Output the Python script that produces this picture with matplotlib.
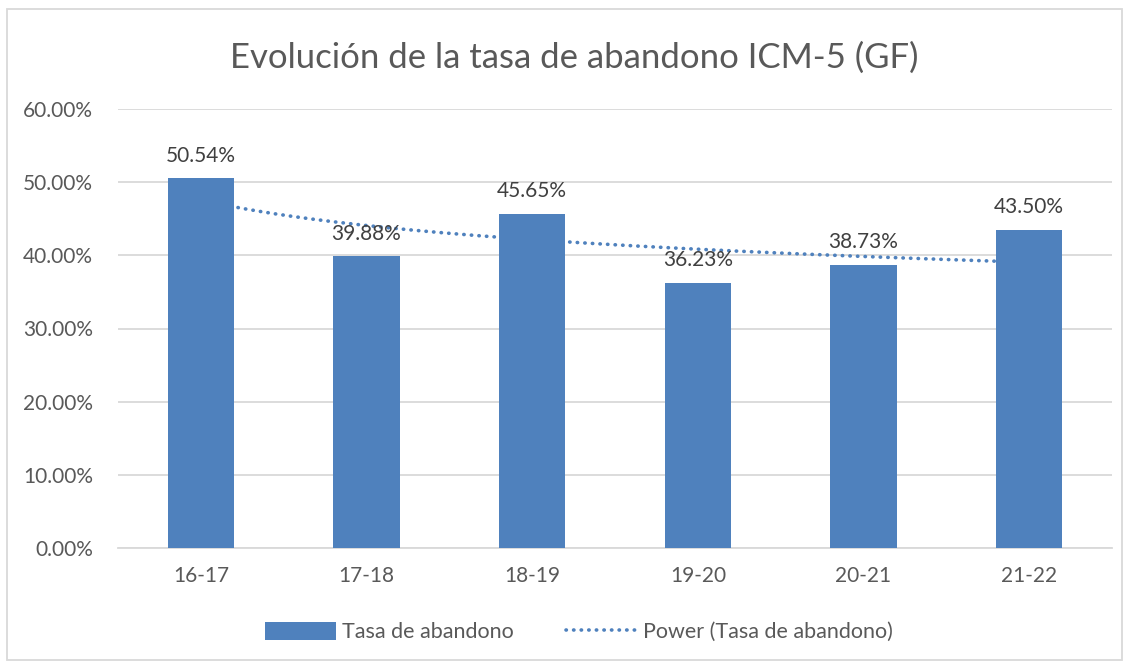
import numpy as np
import matplotlib

matplotlib.use("Agg")
import matplotlib.pyplot as plt  # noqa: E402
from matplotlib.patches import Rectangle  # noqa: E402

# data
years = ["16-17", "17-18", "18-19", "19-20", "20-21", "21-22"]
abandono = [50.54, 39.88, 45.65, 36.23, 38.73, 43.50]

BAR_COLOR = "#4F81BD"
TEXT_COLOR = "#595959"
GRID_COLOR = "#D9D9D9"

plt.rcParams["font.family"] = ["Lato", "DejaVu Sans"]

fig = plt.figure(figsize=(11.3, 6.65), dpi=100)
ax = fig.add_axes([118 / 1130, 1 - 548 / 665, 994 / 1130, 439 / 665])

x = np.arange(len(years))
bars = ax.bar(x, abandono, width=0.4, color=BAR_COLOR, zorder=3,
              label="Tasa de abandono")

# power trendline (Excel style): y = a * n^b fitted on log-log
n = x + 1.0
b, loga = np.polyfit(np.log(n), np.log(abandono), 1)
nn = np.linspace(1, len(years), 200)
(trend,) = ax.plot(nn - 1, np.exp(loga) * nn ** b, color=BAR_COLOR, lw=2.6,
                   linestyle=(0, (0.1, 2.0)), dash_capstyle="round", zorder=2,
                   label="Power (Tasa de abandono)")

for xi, v in zip(x, abandono):
    ax.annotate(f"{v:.2f}%", (xi, v), xytext=(0, 9), textcoords="offset points",
                ha="center", va="bottom", fontsize=15, color="#404040", zorder=5)

ax.set_xlim(-0.5, len(years) - 0.5)
ax.set_ylim(0, 60)
ax.set_yticks(np.arange(0, 61, 10))
ax.set_yticklabels([f"{t:.2f}%" for t in np.arange(0, 61, 10)])
ax.set_xticks(x)
ax.set_xticklabels(years)
ax.tick_params(axis="both", length=0, labelsize=15, labelcolor=TEXT_COLOR)
ax.tick_params(axis="y", pad=18)
ax.tick_params(axis="x", pad=13)
ax.grid(axis="y", color=GRID_COLOR, lw=1.3, zorder=0)
for side in ["top", "right", "left"]:
    ax.spines[side].set_visible(False)
ax.spines["bottom"].set_color(GRID_COLOR)
ax.spines["bottom"].set_linewidth(1.3)

fig.text(574 / 1130, 1 - 58 / 665, "Evolución de la tasa de abandono ICM-5 (GF)",
         ha="center", va="center", fontsize=25, color=TEXT_COLOR)

leg = fig.legend([bars, trend], ["Tasa de abandono", "Power (Tasa de abandono)"],
                 loc="center", bbox_to_anchor=(579 / 1130, 1 - 632 / 665),
                 ncol=2, frameon=False, fontsize=15.5, handlelength=3.3,
                 handleheight=0.9, columnspacing=2.4, handletextpad=0.3)
for t in leg.get_texts():
    t.set_color(TEXT_COLOR)

# outer chart border
fig.patches.append(Rectangle((7 / 1130, 5 / 665), 1115 / 1130, 651 / 665,
                             transform=fig.transFigure, fill=False,
                             edgecolor=GRID_COLOR, lw=1.3))

fig.savefig("out.png", dpi=100)
